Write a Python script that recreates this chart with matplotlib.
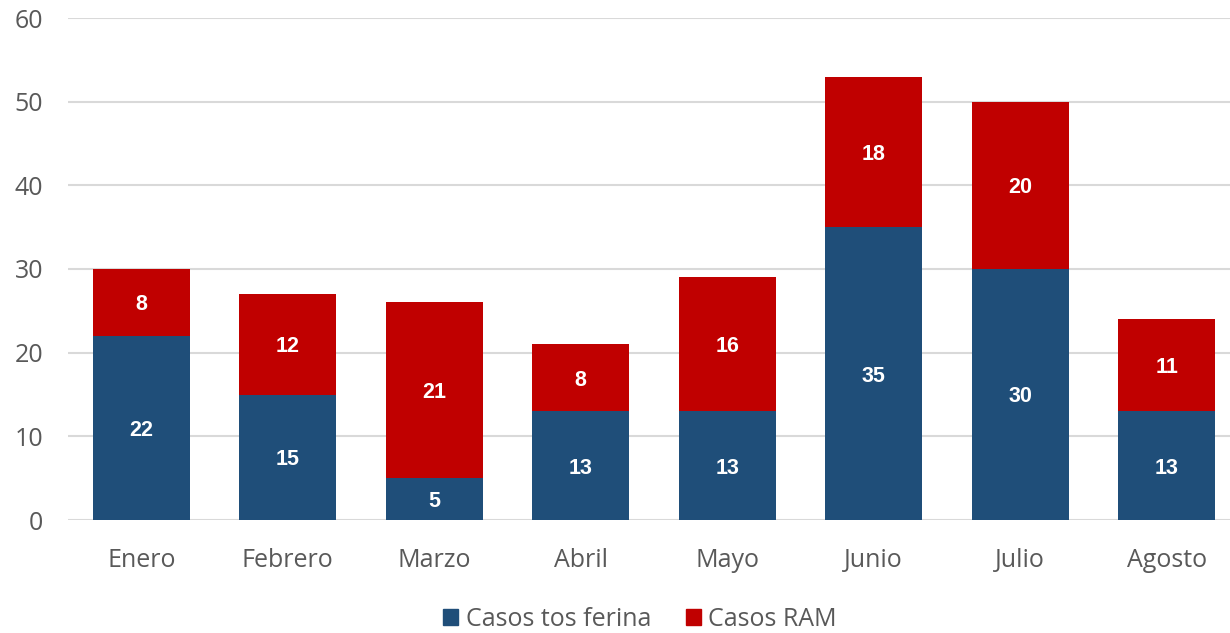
import matplotlib
matplotlib.use("Agg")
import matplotlib.pyplot as plt
from matplotlib.patches import Patch

months = ["Enero", "Febrero", "Marzo", "Abril", "Mayo", "Junio", "Julio", "Agosto"]
tos_ferina = [22, 15, 5, 13, 13, 35, 30, 13]
ram = [8, 12, 21, 8, 16, 18, 20, 11]
y_ticks = [0, 10, 20, 30, 40, 50, 60]

blue = "#1F4E79"
red = "#C00000"
gray_text = "#595959"

fig = plt.figure(figsize=(12.30, 6.33), dpi=100)
ax = fig.add_axes([68 / 1230, (633 - 520) / 633, (1240 - 68) / 1230, (520 - 18) / 633])

x = list(range(len(months)))
b1 = ax.bar(x, tos_ferina, width=0.66, color=blue, zorder=3)
b2 = ax.bar(x, ram, width=0.66, bottom=tos_ferina, color=red, zorder=3)

for rects, vals, bottoms in ((b1, tos_ferina, [0] * len(x)), (b2, ram, tos_ferina)):
    for r, v, b in zip(rects, vals, bottoms):
        ax.text(r.get_x() + r.get_width() / 2, b + v / 2, str(v), ha="center", va="center_baseline",
                color="white", fontsize=15.5, fontweight="bold", family="Liberation Sans", zorder=4)

ax.set_xlim(-0.5, 7.5)
ax.set_ylim(0, 60)
ax.set_yticks(y_ticks)
ax.set_xticks(x)
ax.set_xticklabels(months)
ax.grid(axis="y", color="#D9D9D9", linewidth=1.5, zorder=0)
for s in ax.spines.values():
    s.set_visible(False)
ax.tick_params(axis="both", length=0, labelsize=18, labelcolor=gray_text)
ax.tick_params(axis="x", pad=20)
ax.tick_params(axis="y", pad=18)
for lab in ax.get_xticklabels() + ax.get_yticklabels():
    lab.set_family("Open Sans")

handles = [Patch(color=blue, label="Casos tos ferina"), Patch(color=red, label="Casos RAM")]
leg = fig.legend(handles=handles, loc="center", bbox_to_anchor=(640 / 1230, 1 - 619 / 633),
                 ncol=2, frameon=False, handlelength=0.6, handleheight=0.6, handletextpad=0.3,
                 columnspacing=1.4, borderpad=0.2, prop={"family": "Open Sans", "size": 18})
for t in leg.get_texts():
    t.set_color(gray_text)

fig.savefig("out.png", dpi=100)
